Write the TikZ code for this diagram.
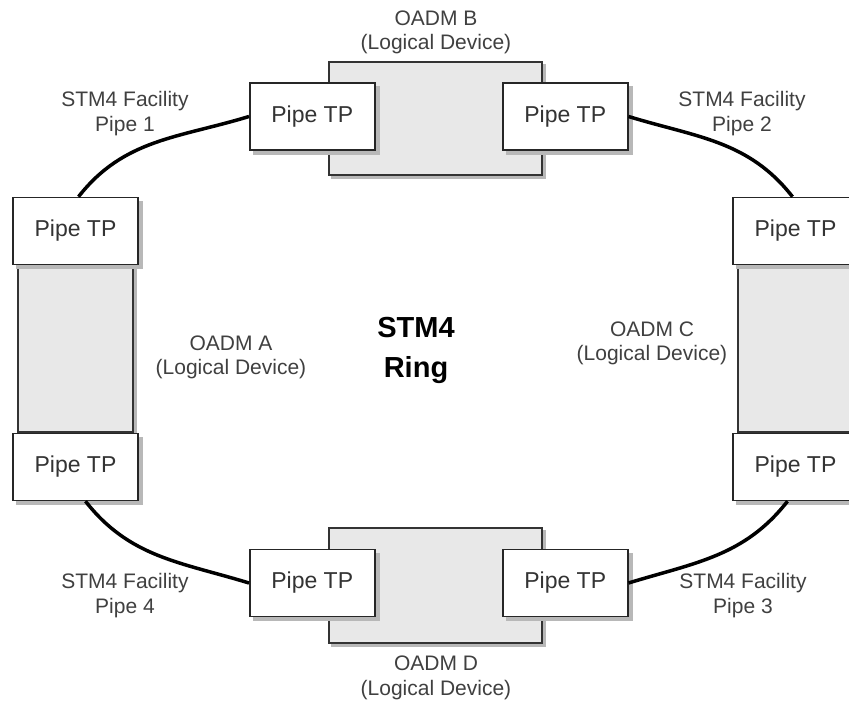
\documentclass[tikz,border=0pt]{standalone}
\usepackage{fontspec}
\setmainfont{Liberation Sans}
\usepackage{tikz}
\usetikzlibrary{positioning}
\tikzset{
    ringdiagram/.style={x=1pt, y=1pt, node distance=0pt},
    boxshadow/.style={preaction={draw=black!28, fill=black!28,
        transform canvas={shift={(#1,-#1)}}}},
    device/.style={draw=black!80, line width=1.5pt, fill=black!9, inner sep=0pt,
        boxshadow=3pt},
    pipetp/.style={draw=black!85, line width=1.5pt, fill=white, inner sep=0pt,
        minimum width=125pt, minimum height=67pt, text=black!80,
        font=\fontsize{23}{26}\selectfont, boxshadow=4pt},
    devlabel/.style={align=center, text=black!75, font=\fontsize{21}{24.5}\selectfont},
    facility/.style={devlabel},
    ringtitle/.style={align=center, font=\fontsize{29}{40}\selectfont\bfseries},
    link/.style={line width=3.5pt},
}
\begin{document}
\begin{tikzpicture}[ringdiagram]
    \clip (0,0) rectangle (849,704);
    \fill[white] (0,0) rectangle (849,704);

    \node[device, minimum width=213pt, minimum height=113pt] (devB) at (435.5,585.5) {};
    \node[device, minimum width=213pt, minimum height=115pt] (devD) at (435.5,118.5) {};
    \node[device, minimum width=115pt, minimum height=166pt] (devA) at (75.5,355) {};
    \node[device, minimum width=115pt, minimum height=166pt] (devC) at (795.5,355) {};

    \node[pipetp, xshift=-16pt, yshift=2pt]   (tpB1) at (devB.west) {Pipe TP};
    \node[pipetp, xshift=22.5pt, yshift=2pt]  (tpB2) at (devB.east) {Pipe TP};
    \node[pipetp, xshift=-16pt, yshift=2.5pt] (tpD1) at (devD.west) {Pipe TP};
    \node[pipetp, xshift=22.5pt, yshift=2.5pt] (tpD2) at (devD.east) {Pipe TP};
    \node[pipetp, above=of devA] (tpA1) {Pipe TP};
    \node[pipetp, below=of devA] (tpA2) {Pipe TP};
    \node[pipetp, above=of devC] (tpC1) {Pipe TP};
    \node[pipetp, below=of devC] (tpC2) {Pipe TP};

    \node[devlabel] (lblB) at (436,671.5) {OADM B\\(Logical Device)};
    \node[devlabel] (lblD) at (436,26) {OADM D\\(Logical Device)};
    \node[devlabel] (lblA) at (231,346.5) {OADM A\\(Logical Device)};
    \node[devlabel] (lblC) at (652,360.5) {OADM C\\(Logical Device)};
    \node[ringtitle] (ring) at (416,354) {STM4\\Ring};

    \node[facility] (fac1) at (125,590.5) {STM4 Facility\\Pipe 1};
    \node[facility] (fac2) at (742,590.5) {STM4 Facility\\Pipe 2};
    \node[facility] (fac3) at (743,108.5) {STM4 Facility\\Pipe 3};
    \node[facility] (fac4) at (125,108.5) {STM4 Facility\\Pipe 4};

    \draw[link] ([xshift=3pt]tpA1.north) to[out=52, in=197] (tpB1.west);
    \draw[link] (tpB2.east) to[out=-17, in=128] ([xshift=-3pt]tpC1.north);
    \draw[link] (tpD2.east) to[out=17, in=-128] ([xshift=-8pt]tpC2.south);
    \draw[link] ([xshift=10pt]tpA2.south) to[out=-52, in=163] (tpD1.west);
\end{tikzpicture}
\end{document}
